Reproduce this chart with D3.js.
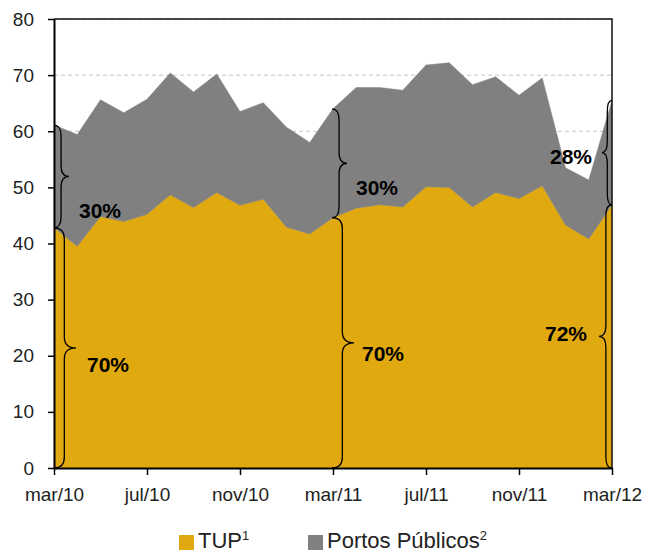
<!doctype html>
<html>
  <head>
    <meta charset="utf-8">
    <script src="https://d3js.org/d3.v7.min.js"></script>
    <style>
      body { margin: 0; background: #fff; }
      svg { display: block; font-family: "Liberation Sans", Arial, sans-serif; }
    </style>
  </head>

  <body>
    <svg class="chart" width=647 height=552></svg>

    <script>
      // monthly volumes, mar/10 .. mar/12
      var months = ["mar/10","abr/10","mai/10","jun/10","jul/10","ago/10","set/10","out/10","nov/10","dez/10","jan/11","fev/11",
                    "mar/11","abr/11","mai/11","jun/11","jul/11","ago/11","set/11","out/11","nov/11","dez/11","jan/12","fev/12","mar/12"];
      var tup    = [42.8, 39.5, 44.8, 43.9, 45.2, 48.7, 46.4, 49.1, 46.8, 47.9, 42.9, 41.7,
                    44.6, 46.3, 46.9, 46.5, 50.1, 50.0, 46.5, 49.1, 48.0, 50.3, 43.3, 40.8, 46.9];
      var portos = [18.3, 19.9, 20.8, 19.4, 20.5, 21.7, 20.6, 21.1, 16.7, 17.2, 17.8, 16.3,
                    19.4, 21.5, 20.9, 20.8, 21.7, 22.2, 21.8, 20.6, 18.4, 19.2, 10.2, 10.5, 18.6];

      var yTicks = [0, 10, 20, 30, 40, 50, 60, 70, 80];
      var xTickLabels = ["mar/10","jul/10","nov/10","mar/11","jul/11","nov/11","mar/12"];

      var seriesNames = ["TUP", "Portos Públicos"];
      var seriesNotes = ["1", "2"];
      var colors = ["#e0a90f", "#808080"];

      // share annotations
      var braceMonths = ["mar/10", "mar/11", "mar/12"];
      var tupShare    = ["70%", "70%", "72%"];
      var portosShare = ["30%", "30%", "28%"];

      var svg = d3.select("svg"),
        plotL = 54, plotR = 612, plotT = 19, plotB = 468;

      var rows = months.map(function(m, i){ return {month: m, tup: tup[i], portos: portos[i]}; });
      var stack = d3.stack().keys(["tup", "portos"])(rows);

      var x = d3.scalePoint().domain(months).range([plotL, plotR]);
      var y = d3.scaleLinear().domain([0, 80]).range([plotB, plotT]);

      // dashed grid (only shows above the areas)
      svg.append("g").selectAll("line")
        .data(yTicks.slice(1))
        .enter().append("line")
        .attr("x1", plotL).attr("x2", plotR)
        .attr("y1", function(d){ return y(d); })
        .attr("y2", function(d){ return y(d); })
        .attr("stroke", "#c4c4c4")
        .attr("stroke-dasharray", "4,3");

      var area = d3.area()
        .x(function(d){ return x(d.data.month); })
        .y0(function(d){ return y(d[0]); })
        .y1(function(d){ return y(d[1]); });

      svg.append("g").selectAll("path")
        .data(stack)
        .enter().append("path")
        .attr("d", area)
        .attr("fill", function(d, i){ return colors[i]; })
        .attr("stroke", function(d, i){ return colors[i]; })
        .attr("stroke-width", 0.5);

      // frame top / right
      svg.append("path")
        .attr("d", "M" + plotL + "," + plotT + "H" + plotR + "V" + plotB)
        .attr("fill", "none").attr("stroke", "#111").attr("stroke-width", 1.5);

      // axes
      var yAxis = svg.append("g")
        .attr("transform", "translate(" + plotL + ",0)")
        .call(d3.axisLeft(y).tickValues(yTicks).tickSize(6).tickSizeOuter(0).tickPadding(14));
      var xAxis = svg.append("g")
        .attr("transform", "translate(0," + plotB + ")")
        .call(d3.axisBottom(x).tickValues(xTickLabels).tickSize(7).tickSizeOuter(0).tickPadding(13));

      [yAxis, xAxis].forEach(function(a){
        a.select(".domain").attr("stroke", "#000").attr("stroke-width", 2);
        a.selectAll(".tick line").attr("stroke", "#000").attr("stroke-width", 1.5);
        a.selectAll("text").attr("font-size", 19).attr("fill", "#222")
          .attr("font-family", "'Liberation Sans', Arial, sans-serif");
      });

      // curly braces
      function brace(x0, y1, y2, w, dir) {
        var h = x0 + dir * w * 0.47, t = x0 + dir * w, ym = (y1 + y2) / 2;
        var r = Math.min(11, (y2 - y1) / 5);
        return "M" + x0 + "," + y1 +
          "Q" + h + "," + y1 + " " + h + "," + (y1 + r) +
          "L" + h + "," + (ym - r) +
          "Q" + h + "," + ym + " " + t + "," + ym +
          "Q" + h + "," + ym + " " + h + "," + (ym + r) +
          "L" + h + "," + (y2 - r) +
          "Q" + h + "," + y2 + " " + x0 + "," + y2;
      }

      // label nudges relative to brace tip: [dx, dy] for portos, tup
      var nudge = [[[10, 34], [11, 17]], [[9, 24], [8, 11]], [[-10, 4], [-12, -3]]];

      var ann = svg.append("g");
      braceMonths.forEach(function(m, k){
        var i = months.indexOf(m), dir = k == 2 ? -1 : 1;
        var x0 = x(m) + (k == 1 ? -1 : 0);
        var yTot = y(tup[i] + portos[i]), yTup = y(tup[i]), y0 = y(0);
        var wP = k == 2 ? 10 : 15, wT = k == 2 ? 13 : 22;
        var parts = [[yTot, yTup, wP, portosShare[k]], [yTup, y0, wT, tupShare[k]]];
        parts.forEach(function(p, j){
          ann.append("path")
            .attr("d", brace(x0, p[0], p[1], p[2], dir))
            .attr("fill", "none").attr("stroke", "#000").attr("stroke-width", 1.3);
          ann.append("text")
            .attr("x", x0 + dir * p[2] + nudge[k][j][0])
            .attr("y", (p[0] + p[1]) / 2 + nudge[k][j][1])
            .attr("dy", "0.35em")
            .attr("text-anchor", dir > 0 ? "start" : "end")
            .attr("font-size", 21).attr("font-weight", "bold").attr("fill", "#000")
            .text(p[3]);
        });
      });

      // legend
      var legendX = [179, 308];
      var lg = svg.append("g").selectAll("g")
        .data(seriesNames)
        .enter().append("g")
        .attr("transform", function(d, i){ return "translate(" + legendX[i] + ",535)"; });
      lg.append("rect").attr("width", 15).attr("height", 15)
        .attr("fill", function(d, i){ return colors[i]; });
      var lt = lg.append("text").attr("x", 19).attr("y", 13)
        .attr("font-size", 22).attr("fill", "#222");
      lt.append("tspan").text(function(d){ return d; });
      lt.append("tspan").attr("font-size", 13).attr("dy", -8)
        .text(function(d, i){ return seriesNotes[i]; });
    </script>
  </body>
</html>
